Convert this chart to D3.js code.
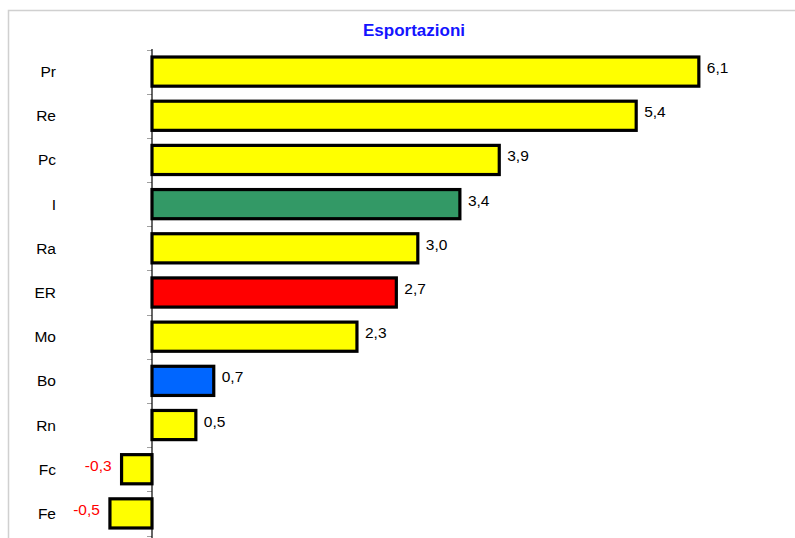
<!DOCTYPE html>
<html><head><meta charset="utf-8">
<script src="https://cdn.jsdelivr.net/npm/d3@7"></script>
<style>body{margin:0;background:#fff}svg{display:block}text{font-family:"Liberation Sans",Arial,sans-serif}</style>
</head><body><svg id="c" width="795" height="538"></svg>
<script>
const categories = ["Pr","Re","Pc","I","Ra","ER","Mo","Bo","Rn","Fc","Fe"];
const values = [6.11, 5.41, 3.88, 3.44, 2.97, 2.73, 2.29, 0.69, 0.49, -0.34, -0.47];
const barColors = ["#ffff00","#ffff00","#ffff00","#339966","#ffff00","#ff0000","#ffff00","#0066ff","#ffff00","#ffff00","#ffff00"];
const title = "Esportazioni";

const svg = d3.select("#c");
// chart border
svg.append("path").attr("d","M8.5,538 V10.5 H795").attr("fill","none").attr("stroke","#d0d0d0").attr("stroke-width",1.5);

const x = d3.scaleLinear().domain([-1, 7]).range([62.5, 778.5]);
const y = d3.scaleBand().domain(categories).range([49.5, 535.5]).paddingInner(0.34).paddingOuter(0.17);
const step = y.step();

svg.append("text").attr("x",414).attr("y",36).attr("text-anchor","middle")
  .attr("font-size",17).attr("font-weight","bold").attr("fill","#1414ff").text(title);

// ticks at band boundaries
const bounds = d3.range(categories.length+1).map(i => 49.5 + i*step);
svg.selectAll("line.tk").data(bounds).enter().append("line")
  .attr("x1", x(0)-5).attr("x2", x(0)).attr("y1", d=>Math.round(d)+0.5).attr("y2", d=>Math.round(d)+0.5)
  .attr("stroke","#a0a0a0");
svg.append("line").attr("x1",x(0)).attr("x2",x(0)).attr("y1",49).attr("y2",538).attr("stroke","#000").attr("stroke-width",1.2);

const data = categories.map((c,i)=>({c, v:values[i], col:barColors[i]}));
svg.selectAll("rect.bar").data(data).enter().append("rect")
  .attr("x", d=>x(Math.min(0,d.v)))
  .attr("width", d=>Math.abs(x(d.v)-x(0)))
  .attr("y", d=>y(d.c)).attr("height", y.bandwidth())
  .attr("fill", d=>d.col).attr("stroke","#000").attr("stroke-width",3.2);

// category labels
svg.selectAll("text.cat").data(data).enter().append("text")
  .attr("x",56).attr("y",d=>y(d.c)+y.bandwidth()/2+5.5).attr("text-anchor","end")
  .attr("font-size",15.5).attr("fill","#000").text(d=>d.c);

const fmt = v => d3.format(".1f")(v).replace("−","-").replace(".",",");
svg.selectAll("text.val").data(data).enter().append("text")
  .attr("x",d=> d.v>=0 ? x(d.v)+8 : x(d.v)-10)
  .attr("y",d=>y(d.c)+y.bandwidth()/2 + 1.5)
  .attr("text-anchor",d=>d.v>=0?"start":"end")
  .attr("font-size",15.5).attr("fill",d=>d.v>=0?"#000":"#ff0000").text(d=>fmt(d.v));
</script></body></html>
